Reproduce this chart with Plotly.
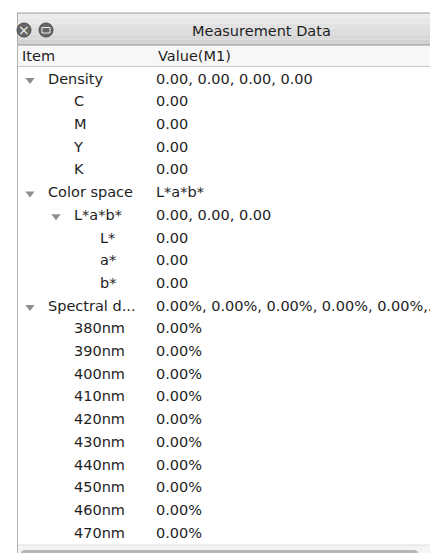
import plotly.graph_objects as go

# tree rows of the "Measurement Data" panel
spectral_nm = [380, 390, 400, 410, 420, 430, 440, 450, 460, 470]

labels = ["Density", "C", "M", "Y", "K",
          "Color space", "L*a*b*", "L*", "a*", "b*",
          "Spectral d..."] + [f"{nm}nm" for nm in spectral_nm]
values = ["0.00, 0.00, 0.00, 0.00", "0.00", "0.00", "0.00", "0.00",
          "L*a*b*", "0.00, 0.00, 0.00", "0.00", "0.00", "0.00",
          "0.00%, 0.00%, 0.00%, 0.00%, 0.00%,."] + ["0.00%"] * len(spectral_nm)
levels = [0, 1, 1, 1, 1, 0, 1, 2, 2, 2, 0] + [1] * len(spectral_nm)
expanded = [True, False, False, False, False, True, True, False, False, False, True] + [False] * len(spectral_nm)

columns = ["Item", "Value(M1)"]
title = "Measurement Data"

W, H = 438, 553
ROW0, ROW_H = 72, 22.7
FONT = "DejaVu Sans"
TXT = "#1e1e1e"
FS = 14.5

rows = list(range(len(labels)))
label_x = [40 + 26 * lv for lv in levels]
tri_rows = [r for r in rows if expanded[r]]
tri_x = [label_x[r] - 18 for r in tri_rows]

fig = go.Figure()
fig.add_trace(go.Scatter(x=label_x, y=rows, text=labels, mode="text",
                         textposition="middle right",
                         textfont=dict(family=FONT, size=FS, color=TXT),
                         hoverinfo="skip", showlegend=False))
fig.add_trace(go.Scatter(x=[148] * len(rows), y=rows, text=values, mode="text",
                         textposition="middle right",
                         textfont=dict(family=FONT, size=FS, color=TXT),
                         hoverinfo="skip", showlegend=False))
fig.add_trace(go.Scatter(x=tri_x, y=tri_rows, mode="markers",
                         marker=dict(symbol="triangle-down", size=8, color="#8e8e8e"),
                         hoverinfo="skip", showlegend=False))

shapes = []
def rect(x0, y0, x1, y1, fill, line=None, layer="below"):
    shapes.append(dict(type="rect", xref="x", yref="y2", x0=x0, y0=y0, x1=x1, y1=y1,
                       fillcolor=fill, line=dict(width=1 if line else 0, color=line or fill),
                       layer=layer))
def hline(y, color, x0=9, x1=W):
    shapes.append(dict(type="line", xref="x", yref="y2", x0=x0, x1=x1, y0=y, y1=y,
                       line=dict(color=color, width=1), layer="above"))

# window chrome: title bar with a soft gradient
bands = ["#ececec", "#e7e7e7", "#e2e2e2", "#dddddd", "#d8d8d8", "#d3d3d3"]
step = 32 / len(bands)
for i, c in enumerate(bands):
    rect(9, 5 + i * step, W, 5 + (i + 1) * step, c)
hline(5, "#9c9c9c")
hline(37, "#8e8e8e")
# column header
rect(9, 38, W, 58, "#f7f7f7")
hline(58.5, "#c9c9c9")
shapes.append(dict(type="line", xref="x", yref="y2", x0=430, x1=430, y0=38, y1=58,
                   line=dict(color="#dcdcdc", width=1)))
# window border left/right
shapes.append(dict(type="line", xref="x", yref="y2", x0=9.5, x1=9.5, y0=5, y1=H,
                   line=dict(color="#b0b0b0", width=1), layer="above"))
shapes.append(dict(type="line", xref="x", yref="y2", x0=437.5, x1=437.5, y0=37, y1=H,
                   line=dict(color="#b4b4b4", width=1)))
# vertical scroll thumb
rect(431, 45, 436, 257, "#c6c6c6", layer="above")
# horizontal scroll bar
rect(10, 537, W, H, "#f4f4f4", layer="above")
hline(537, "#dedede", x0=10)
rect(17, 542, 406, 551, "#b6b6b6", layer="above")
for cx in (17, 406):
    shapes.append(dict(type="circle", xref="x", yref="y2", x0=cx - 4.5, x1=cx + 4.5,
                       y0=542, y1=551, fillcolor="#b6b6b6", line=dict(width=0), layer="above"))
# close / minimise buttons
for cx in (16, 38):
    shapes.append(dict(type="circle", xref="x", yref="y2", x0=cx - 7, x1=cx + 7,
                       y0=15, y1=29, fillcolor="#666666", line=dict(color="#4a4a4a", width=1),
                       layer="above"))
rect(34, 19.5, 42, 25, "#666666", line="#f0f0f0", layer="above")

annotations = [
    dict(x=16, y=22, xref="x", yref="y2", text="×", showarrow=False,
         font=dict(family=FONT, size=14, color="#f2f2f2")),
    dict(x=253, y=22.5, xref="x", yref="y2", text=title, showarrow=False,
         font=dict(family=FONT, size=FS, color=TXT)),
    dict(x=12, y=48, xref="x", yref="y2", text=columns[0], showarrow=False, xanchor="left",
         font=dict(family=FONT, size=FS, color=TXT)),
    dict(x=148, y=48, xref="x", yref="y2", text=columns[1], showarrow=False, xanchor="left",
         font=dict(family=FONT, size=FS, color=TXT)),
]

fig.update_layout(
    width=W, height=H,
    margin=dict(l=0, r=0, t=0, b=0),
    paper_bgcolor="white", plot_bgcolor="white",
    xaxis=dict(range=[0, W], visible=False, fixedrange=True),
    yaxis=dict(range=[(H - ROW0) / ROW_H, -ROW0 / ROW_H], visible=False, fixedrange=True),
    yaxis2=dict(range=[H, 0], visible=False, overlaying="y", fixedrange=True),
    shapes=shapes,
    annotations=annotations,
)

fig.write_html("out.html")
